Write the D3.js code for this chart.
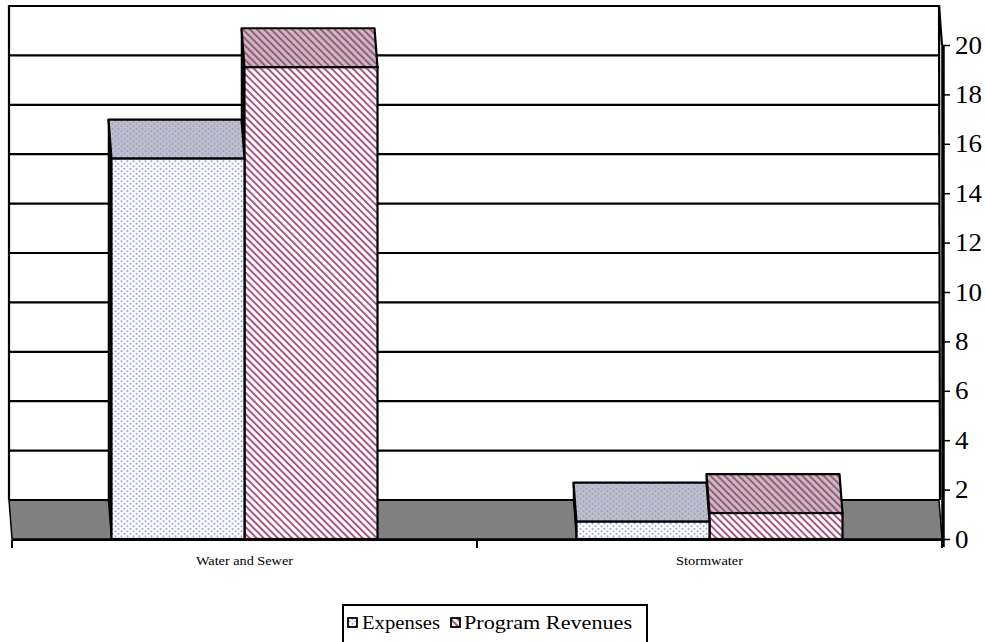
<!DOCTYPE html>
<html><head><meta charset="utf-8">
<script src="https://cdn.jsdelivr.net/npm/d3@7"></script>
<style>body{margin:0;background:#fff}svg{display:block}</style>
</head><body><svg id="c" width="986" height="642"></svg>
<script>
const categories = ["Water and Sewer", "Stormwater"];
const seriesNames = ["Expenses", "Program Revenues"];
const expenses = [15.4, 0.7];
const revenues = [19.1, 1.05];
const yTicks = [0, 2, 4, 6, 8, 10, 12, 14, 16, 18, 20];

const svg = d3.select("#c");
const font = "'Liberation Serif','Times New Roman',serif";
const defs = svg.append("defs");

function dots(id, bg) {
  const p = defs.append("pattern").attr("id", id).attr("patternUnits", "userSpaceOnUse")
    .attr("width", 6).attr("height", 5);
  p.append("rect").attr("width", 6).attr("height", 5).attr("fill", bg);
  [[1.5, 1.2], [4.5, 3.7]].forEach(([cx, cy]) =>
    p.append("circle").attr("cx", cx).attr("cy", cy).attr("r", 1).attr("fill", "#9a9af5"));
}
function stripes(id, bg) {
  const p = defs.append("pattern").attr("id", id).attr("patternUnits", "userSpaceOnUse")
    .attr("width", 5).attr("height", 5).attr("patternTransform", "rotate(-45)");
  p.append("rect").attr("width", 5).attr("height", 5).attr("fill", bg);
  p.append("rect").attr("x", 0).attr("y", 0).attr("width", 1.9).attr("height", 5).attr("fill", "#a84e7a");
}
dots("dotFront", "#ffffff");
dots("dotTop", "#c0c0c0");
stripes("strFront", "#ffffff");
stripes("strTop", "#c0c0c0");

const x0 = 12, x1 = 942;
const yFront0 = 539, depthX = -3, depthY = -39;
const x = d3.scaleBand().domain(categories).range([x0, x1]).paddingInner(0).paddingOuter(0);
const xs = d3.scaleBand().domain(seriesNames).range([0, x.bandwidth()]).paddingInner(0).paddingOuter(0.748);
const y = d3.scaleLinear().domain([0, 20]).range([yFront0, yFront0 - 494]);
const yb = v => y(v) + depthY;

// back wall
svg.append("rect").attr("x", x0 + depthX).attr("y", yb(20)).attr("width", x1 - x0).attr("height", yb(0) - yb(20)).attr("fill", "#fff");
// gridlines
svg.append("g").selectAll("line").data(yTicks.filter(d => d > 0)).join("line")
  .attr("x1", x0 + depthX).attr("x2", x1 + depthX).attr("y1", d => yb(d)).attr("y2", d => yb(d))
  .attr("stroke", "#000").attr("stroke-width", 2.2);
// left wall edge
svg.append("line").attr("x1", x0 + depthX).attr("x2", x0 + depthX).attr("y1", yb(20) - 1).attr("y2", yb(0))
  .attr("stroke", "#000").attr("stroke-width", 2.2);
// floor
svg.append("polygon")
  .attr("points", [[x0 + depthX, yb(0)], [x1 + depthX, yb(0)], [x1, y(0)], [x0, y(0)]].map(p => p.join(",")).join(" "))
  .attr("fill", "#808080").attr("stroke", "#000").attr("stroke-width", 1.5);
svg.append("line").attr("x1", x0 + depthX).attr("x2", x1 + depthX).attr("y1", yb(0)).attr("y2", yb(0))
  .attr("stroke", "#000").attr("stroke-width", 2.2);

// bars
const barData = [];
categories.forEach((c, i) => {
  barData.push({ cat: c, s: "Program Revenues", v: revenues[i], front: "url(#strFront)", top: "url(#strTop)" });
  barData.push({ cat: c, s: "Expenses", v: expenses[i], front: "url(#dotFront)", top: "url(#dotTop)" });
});
const bars = svg.append("g");
barData.forEach(d => {
  const bx = x(d.cat) + xs(d.s), bw = xs.bandwidth();
  const yt = y(d.v);
  const g = bars.append("g");
  g.append("polygon").attr("points", [[bx, yt], [bx + depthX, yt + depthY], [bx + depthX, y(0) + depthY], [bx, y(0)]].map(p => p.join(",")).join(" "))
    .attr("fill", "#111").attr("stroke", "#000").attr("stroke-width", 1.5);
  g.append("polygon").attr("points", [[bx, yt], [bx + bw, yt], [bx + bw + depthX, yt + depthY], [bx + depthX, yt + depthY]].map(p => p.join(",")).join(" "))
    .attr("fill", d.top).attr("stroke", "#000").attr("stroke-width", 2.2).attr("stroke-linejoin", "round");
  g.append("rect").attr("x", bx).attr("y", yt).attr("width", bw).attr("height", y(0) - yt)
    .attr("fill", d.front).attr("stroke", "#000").attr("stroke-width", 2.2);
});

// right wall edge + value axis
svg.append("line").attr("x1", x1 + depthX).attr("y1", yb(20) - 1).attr("x2", x1).attr("y2", y(20))
  .attr("stroke", "#000").attr("stroke-width", 2.2);
svg.append("line").attr("x1", x1 + depthX).attr("y1", yb(20) - 1).attr("x2", x1 + depthX + 1).attr("y2", yb(0))
  .attr("stroke", "#000").attr("stroke-width", 2.2);
const yAxis = svg.append("g").attr("transform", `translate(${x1 + 1},0)`)
  .call(d3.axisRight(y).tickValues(yTicks).tickSize(7).tickPadding(5).tickFormat(d3.format("d")));
yAxis.select(".domain").attr("stroke-width", 3.5).attr("d", `M0,${y(20)}V${y(0) + 8}`);
yAxis.selectAll(".tick line").attr("stroke-width", 1.5);
yAxis.selectAll("text").attr("font-family", font).attr("font-size", 25).attr("fill", "#000")
  .attr("textLength", d => String(d).length * 13.5).attr("lengthAdjust", "spacingAndGlyphs");

// category axis
const xAxis = svg.append("g").attr("transform", `translate(0,${y(0) + 1})`)
  .call(d3.axisBottom(x).tickSize(0).tickPadding(16));
xAxis.select(".domain").attr("stroke-width", 2).attr("d", `M${x0},0H${x1}`);
const catWidths = { "Water and Sewer": 97, "Stormwater": 67 };
xAxis.selectAll("text").attr("font-family", font).attr("font-size", 12).attr("fill", "#000")
  .attr("textLength", d => catWidths[d]).attr("lengthAdjust", "spacingAndGlyphs");
const edges = [x0, x(categories[1]), x1];
xAxis.append("g").selectAll("line").data(edges).join("line")
  .attr("x1", d => d).attr("x2", d => d).attr("y1", 0).attr("y2", 8).attr("stroke", "#000").attr("stroke-width", 2);

// legend
const lg = svg.append("g");
lg.append("rect").attr("x", 343).attr("y", 605).attr("width", 304).attr("height", 60)
  .attr("fill", "#fff").attr("stroke", "#000").attr("stroke-width", 2);
const legendItems = [
  { name: seriesNames[0], fill: "url(#dotFront)", sx: 348, tx: 362, w: 78 },
  { name: seriesNames[1], fill: "url(#strFront)", sx: 451, tx: 464, w: 168 }
];
legendItems.forEach(it => {
  lg.append("rect").attr("x", it.sx).attr("y", 618).attr("width", 9).attr("height", 9)
    .attr("fill", it.fill).attr("stroke", "#000").attr("stroke-width", 1.8);
  lg.append("text").attr("x", it.tx).attr("y", 629).attr("font-family", font).attr("font-size", 18)
    .attr("textLength", it.w).attr("lengthAdjust", "spacingAndGlyphs").attr("fill", "#000").text(it.name);
});
</script></body></html>
